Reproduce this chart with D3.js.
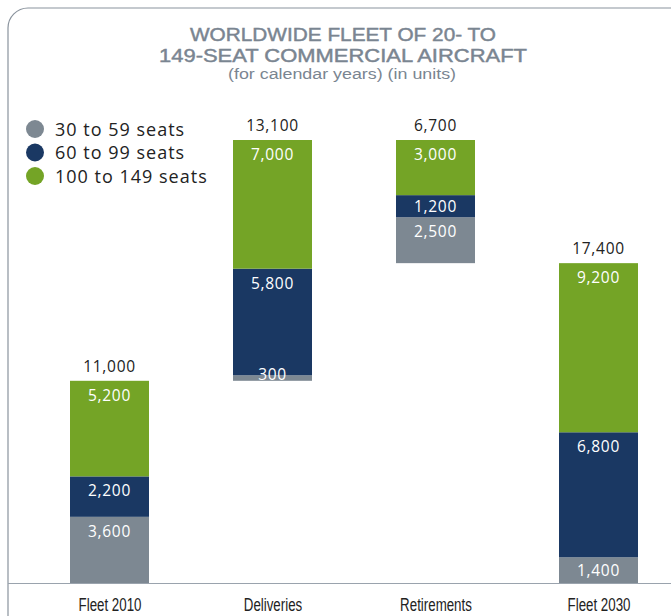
<!DOCTYPE html>
<html>
<head>
<meta charset="utf-8">
<script src="https://cdn.jsdelivr.net/npm/d3@7"></script>
<style>
  body { margin: 0; background: #fff; }
  svg { display: block; font-family: "Open Sans", sans-serif; }
</style>
</head>
<body>
<div id="chart"></div>
<script>
// Data
const categories = ['Fleet 2010', 'Deliveries', 'Retirements', 'Fleet 2030'];
const kinds = ['total', 'up', 'down', 'total'];
const seats30to59 = [3600, 300, 2500, 1400];
const seats60to99 = [2200, 5800, 1200, 6800];
const seats100to149 = [5200, 7000, 3000, 9200];
const totals = [11000, 13100, 6700, 17400];
const seriesNames = ['30 to 59 seats', '60 to 99 seats', '100 to 149 seats'];
const seriesColors = ['#7d8892', '#1a3863', '#74a426'];

const W = 671, H = 616;
const baseY = 583;

const svg = d3.select('#chart').append('svg')
  .attr('width', W)
  .attr('height', H);

// Rounded frame
svg.append('rect')
  .attr('x', 8).attr('y', 8)
  .attr('width', 690).attr('height', 630)
  .attr('rx', 20).attr('ry', 20)
  .attr('fill', 'none')
  .attr('stroke', '#8a939d')
  .attr('stroke-width', 1.2);

// Title
const title = svg.append('g')
  .attr('text-anchor', 'middle')
  .attr('fill', '#7a8591')
  .attr('font-family', '"Liberation Sans", Arial, sans-serif');
title.append('text').attr('x', 343).attr('y', 41)
  .attr('font-size', 18.5)
  .attr('stroke', '#7a8591').attr('stroke-width', 0.45)
  .attr('textLength', 306).attr('lengthAdjust', 'spacingAndGlyphs')
  .text('WORLDWIDE FLEET OF 20- TO');
title.append('text').attr('x', 343).attr('y', 62)
  .attr('font-size', 18.5)
  .attr('stroke', '#7a8591').attr('stroke-width', 0.45)
  .attr('textLength', 368).attr('lengthAdjust', 'spacingAndGlyphs')
  .text('149-SEAT COMMERCIAL AIRCRAFT');
title.append('text').attr('x', 342).attr('y', 79)
  .attr('font-size', 14)
  .attr('textLength', 228).attr('lengthAdjust', 'spacingAndGlyphs')
  .text('(for calendar years) (in units)');

// Running totals for the waterfall
let running = 0;
const bars = categories.map((c, i) => {
  let base;
  if (kinds[i] === 'total') { base = 0; running = totals[i]; }
  else if (kinds[i] === 'up') { base = running; running += totals[i]; }
  else { running -= totals[i]; base = running; }
  const vals = [seats30to59[i], seats60to99[i], seats100to149[i]];
  let acc = base;
  const segs = vals.map((v, k) => {
    const s = { y0: acc, y1: acc + v, value: v, k };
    acc += v;
    return s;
  });
  return { cat: c, base, top: acc, total: totals[i], segs };
});

// Scales
const x = d3.scalePoint()
  .domain(categories)
  .range([109.5, 598.5]);
const barW = 79;

const y = d3.scaleLinear()
  .domain([0, 24100])
  .range([baseY, 140]);

const fmt = d3.format(',');

const barG = svg.append('g').selectAll('g.bar')
  .data(bars)
  .join('g')
  .attr('class', 'bar');

barG.selectAll('rect')
  .data(d => d.segs.map(s => ({ ...s, cat: d.cat })))
  .join('rect')
  .attr('x', d => x(d.cat) - barW / 2)
  .attr('width', barW)
  .attr('y', d => y(d.y1))
  .attr('height', d => y(d.y0) - y(d.y1))
  .attr('fill', d => seriesColors[d.k]);

// segment labels: near the top, or centred when the segment is short
barG.selectAll('text.seg')
  .data(d => d.segs.map(s => ({ ...s, cat: d.cat })))
  .join('text')
  .attr('class', 'seg')
  .attr('x', d => x(d.cat))
  .attr('y', d => {
    const t = y(d.y1), b = y(d.y0);
    return Math.min(t + 20, (t + b) / 2 + 5.5, b - 1);
  })
  .attr('text-anchor', 'middle')
  .attr('font-size', 15.5)
  .attr('letter-spacing', 0.7)
  .attr('fill', '#fff')
  .text(d => fmt(d.value));

barG.append('text')
  .attr('x', d => x(d.cat))
  .attr('y', d => y(d.top) - 9)
  .attr('text-anchor', 'middle')
  .attr('font-size', 15.5)
  .attr('letter-spacing', 0.7)
  .attr('fill', '#222')
  .text(d => fmt(d.total));

// Axis baseline and category labels
svg.append('line')
  .attr('x1', 8).attr('x2', W)
  .attr('y1', baseY + 0.5).attr('y2', baseY + 0.5)
  .attr('stroke', '#9aa3ad')
  .attr('stroke-width', 1.2);

const xAxis = d3.axisBottom(x).tickSize(0).tickPadding(0);
svg.append('g')
  .attr('transform', `translate(0,${baseY + 15})`)
  .call(xAxis)
  .call(a => a.select('.domain').remove())
  .selectAll('text')
  .attr('font-family', '"Liberation Sans", Arial, sans-serif')
  .attr('font-size', 18.5)
  .attr('transform', 'scale(0.72,1)')
  .attr('fill', '#222');

// Legend
const legend = svg.append('g').attr('transform', 'translate(35,129)');
const li = legend.selectAll('g')
  .data(seriesNames)
  .join('g')
  .attr('transform', (d, i) => `translate(0,${i * 23.5})`);
li.append('circle').attr('r', 9).attr('fill', (d, i) => seriesColors[i]);
li.append('text')
  .attr('x', 20).attr('y', 6.5)
  .attr('font-size', 18)
  .attr('letter-spacing', 1)
  .attr('fill', '#222')
  .text(d => d);
</script>
</body>
</html>
